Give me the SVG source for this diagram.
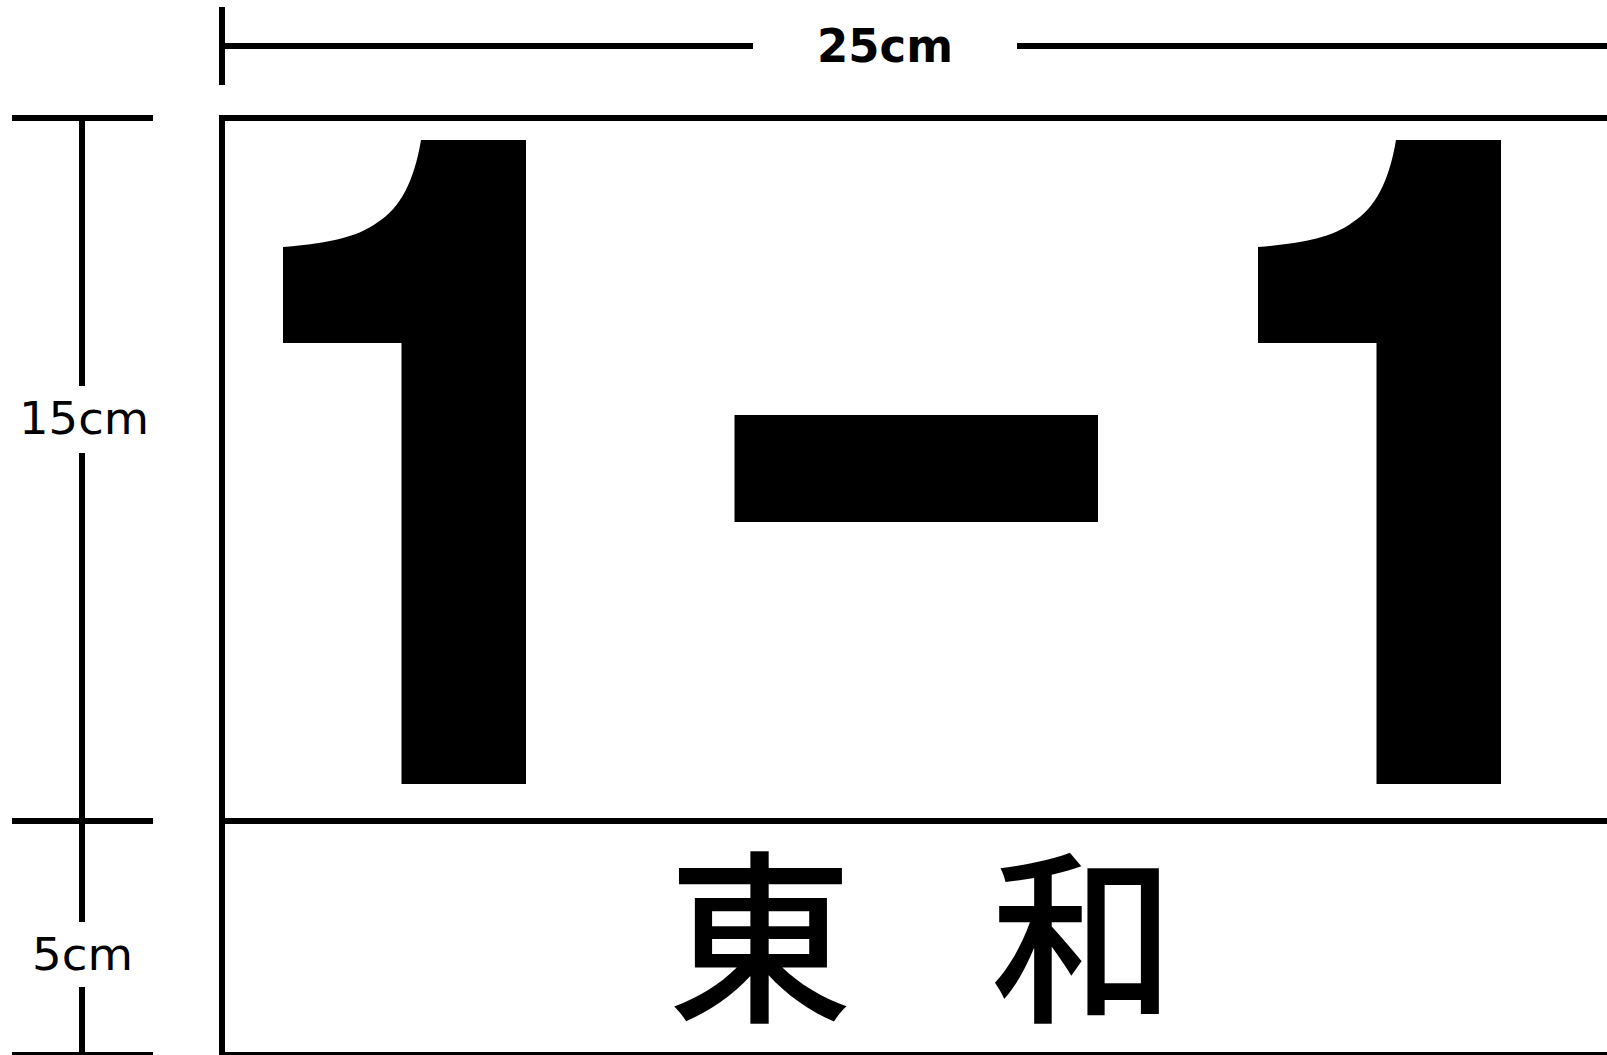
<svg xmlns="http://www.w3.org/2000/svg" width="1607" height="1055" viewBox="0 0 1607 1055">
<style>
.ln{stroke:#000;stroke-width:6;fill:none}
.dim{font-family:"DejaVu Sans","Liberation Sans",sans-serif;fill:#000}
.cjk{font-family:"Noto Sans CJK JP","Noto Sans CJK SC",sans-serif;font-size:185px;font-weight:500;fill:#000;text-anchor:middle}
</style>
<rect width="1607" height="1055" fill="#fff"/>
<g id="connectors">
<line class="ln" x1="222" y1="7" x2="222" y2="85"/>
<line class="ln" x1="222" y1="46" x2="753" y2="46"/>
<line class="ln" x1="1017" y1="46" x2="1607" y2="46"/>
<line class="ln" x1="12" y1="118" x2="153" y2="118"/>
<line class="ln" x1="12" y1="821" x2="153" y2="821"/>
<line class="ln" x1="12" y1="1055" x2="153" y2="1055"/>
<line class="ln" x1="82" y1="118" x2="82" y2="386"/>
<line class="ln" x1="82" y1="453" x2="82" y2="922"/>
<line class="ln" x1="82" y1="987" x2="82" y2="1055"/>
</g>
<g id="labels">
<text class="dim" x="817" y="62" font-size="46" font-weight="bold" textLength="136" lengthAdjust="spacingAndGlyphs">25cm</text>
<text class="dim" x="19" y="434" font-size="45" textLength="130" lengthAdjust="spacingAndGlyphs">15cm</text>
<text class="dim" x="32" y="970" font-size="45" textLength="101" lengthAdjust="spacingAndGlyphs">5cm</text>
</g>
<g id="plate">
<line class="ln" x1="222" y1="115" x2="222" y2="1055"/>
<line class="ln" x1="219" y1="118" x2="1607" y2="118"/>
<line class="ln" x1="219" y1="821" x2="1607" y2="821"/>
<line class="ln" x1="219" y1="1055" x2="1607" y2="1055"/>
</g>
<g id="number">
<path id="one" d="M421,140 C414,182 400,208 378,222 C356,239 320,244 283,247 L283,343 L401.5,343 L401.5,784 L526,784 L526,140 Z" fill="#000"/>
<rect x="734.5" y="415" width="363.5" height="107" fill="#000"/>
<use href="#one" transform="translate(975,0)"/>
</g>
<g id="name">
<text class="cjk" x="760" y="1008">東</text>
<text class="cjk" x="1083" y="1008">和</text>
</g>
</svg>
